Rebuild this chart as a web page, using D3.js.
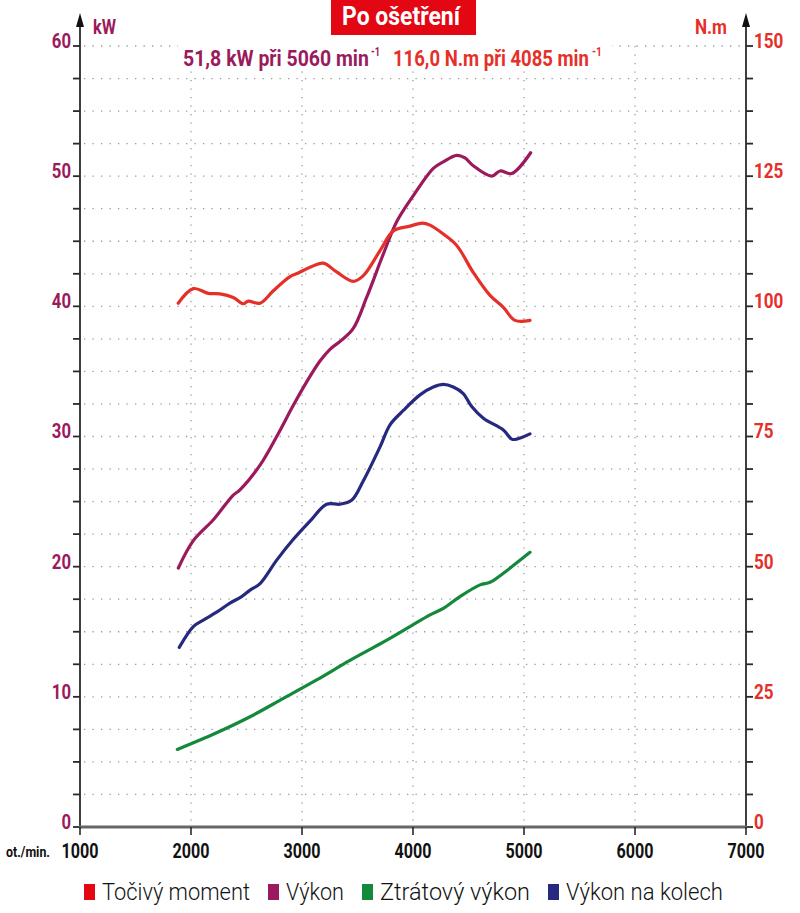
<!DOCTYPE html>
<html><head><meta charset="utf-8">
<script src="https://cdn.jsdelivr.net/npm/d3@7"></script>
<style>
body{margin:0;background:#fff;}
text{font-family:"Roboto","Liberation Sans",sans-serif;}
</style></head>
<body><svg id="c" width="800" height="913"></svg>
<script>
const rpmTorque = [1885,2021,2156,2261,2381,2471,2516,2622,2742,2892,2967,3072,3192,3312,3462,3553,3703,3823,3973,4085,4153,4273,4394,4543,4694,4814,4919,5054];
const torque    = [100.6,103.4,102.5,102.4,101.7,100.5,101.0,100.6,103.0,105.7,106.4,107.5,108.3,106.6,104.8,105.9,110.7,114.5,115.4,116.0,115.6,113.9,111.7,106.5,102.1,99.8,97.3,97.3];
const rpmPower  = [1886,2021,2201,2381,2441,2622,2772,2922,3042,3162,3252,3357,3462,3583,3732,3853,4003,4183,4273,4394,4468,4543,4709,4784,4889,5060];
const power     = [19.9,22.0,23.6,25.5,25.9,27.8,30.0,32.4,34.2,35.8,36.7,37.4,38.3,40.7,44.0,46.5,48.5,50.6,51.1,51.6,51.4,50.8,50.0,50.4,50.2,51.8];
const rpmLoss   = [1877,2231,2532,2832,3132,3432,3732,3973,4153,4273,4423,4604,4694,4814,5054];
const loss      = [5.96,7.24,8.47,9.88,11.3,12.8,14.2,15.4,16.3,16.8,17.7,18.6,18.8,19.5,21.1];
const rpmWheel  = [1894,2021,2111,2231,2351,2456,2532,2622,2772,2922,3072,3222,3342,3447,3553,3703,3793,3913,4063,4183,4273,4363,4453,4529,4634,4814,4889,4934,5054];
const wheel     = [13.8,15.4,15.9,16.5,17.2,17.7,18.2,18.7,20.5,22.1,23.5,24.8,24.8,25.1,26.6,29.2,30.9,32.0,33.2,33.8,34.0,33.8,33.3,32.3,31.4,30.5,29.8,29.8,30.2];
const xTicks = [1000,2000,3000,4000,5000,6000,7000];
const kwTicks = [0,10,20,30,40,50,60];
const nmTicks = [0,25,50,75,100,125,150];
const legendNames = ["Točivý moment","Výkon","Ztrátový výkon","Výkon na kolech"];

const C = {torque:"#e5302a", power:"#9b1a5d", loss:"#14893b", wheel:"#27297f"};
const svg = d3.select("#c");
const x = d3.scaleLinear().domain([1000,7000]).range([80,746]);
const yK = d3.scaleLinear().domain([0,60]).range([827,46]);
const yN = d3.scaleLinear().domain([0,150]).range([827,46]);
// condense a text horizontally to width w, scaling about its anchor x
const fit = (sel, w) => {
  const n = sel.node(), w0 = n.getComputedTextLength(), ax = +sel.attr("x");
  const s = w / w0;
  sel.attr("transform", `translate(${ax},0) scale(${s},1) translate(${-ax},0)`);
  return sel;
};

// grid
const minor = d3.range(2.5,60.01,2.5);
svg.append("g").selectAll("line").data(minor).join("line")
  .attr("x1",84).attr("x2",746).attr("y1",d=>yK(d)).attr("y2",d=>yK(d))
  .attr("stroke","#9a9a9a").attr("stroke-width",1.3).attr("stroke-dasharray","1.3,7.2");
svg.append("g").selectAll("line").data(xTicks.slice(1,6)).join("line")
  .attr("x1",d=>x(d)).attr("x2",d=>x(d)).attr("y1",yK(60)).attr("y2",825)
  .attr("stroke","#9a9a9a").attr("stroke-width",1.3).attr("stroke-dasharray","1.3,7.2");

// subtitle background
svg.append("rect").attr("x",178).attr("y",38).attr("width",434).attr("height",32).attr("fill","#fff");

// axes
const axCol="#2a2a2a";
svg.append("line").attr("x1",80).attr("x2",80).attr("y1",22).attr("y2",829).attr("stroke",axCol).attr("stroke-width",1.8);
svg.append("line").attr("x1",746).attr("x2",746).attr("y1",22).attr("y2",829).attr("stroke",axCol).attr("stroke-width",1.8);
svg.append("path").attr("d","M80,13 L76,27 L84,27 Z").attr("fill","#111");
svg.append("path").attr("d","M746,13 L742,27 L750,27 Z").attr("fill","#111");
svg.append("g").selectAll("line").data(d3.range(0,60.01,2.5)).join("line")
  .attr("x1",73).attr("x2",80).attr("y1",d=>yK(d)).attr("y2",d=>yK(d)).attr("stroke",axCol).attr("stroke-width",1.8);
svg.append("g").selectAll("line").data(d3.range(0,60.01,2.5)).join("line")
  .attr("x1",746).attr("x2",753).attr("y1",d=>yK(d)).attr("y2",d=>yK(d)).attr("stroke",axCol).attr("stroke-width",1.8);
svg.append("line").attr("x1",79).attr("x2",747).attr("y1",827).attr("y2",827).attr("stroke","#666").attr("stroke-width",3);
svg.append("g").selectAll("line").data(xTicks).join("line")
  .attr("x1",d=>x(d)).attr("x2",d=>x(d)).attr("y1",827).attr("y2",835).attr("stroke",axCol).attr("stroke-width",1.6);

// tick labels
svg.append("g").selectAll("text").data(kwTicks).join("text")
  .attr("x",71).attr("y",d=>yK(d)+2).attr("text-anchor","end")
  .attr("fill",C.power).attr("font-size",21).attr("font-weight","bold").text(d=>d)
  .each(function(d){ fit(d3.select(this), String(d).length*9.6); });
svg.append("g").selectAll("text").data(nmTicks).join("text")
  .attr("x",754).attr("y",d=>yN(d)+2).attr("text-anchor","start")
  .attr("fill",C.torque).attr("font-size",21).attr("font-weight","bold").text(d=>d)
  .each(function(d){ fit(d3.select(this), String(d).length*9.8); });
svg.append("g").selectAll("text").data(xTicks).join("text")
  .attr("x",d=>x(d)).attr("y",858).attr("text-anchor","middle")
  .attr("fill","#111").attr("font-size",20).attr("font-weight","bold").text(d=>d)
  .each(function(){ fit(d3.select(this), 37); });
fit(svg.append("text").attr("x",6).attr("y",857).attr("font-size",14).attr("font-weight","bold").attr("fill","#111").text("ot./min."), 44);
fit(svg.append("text").attr("x",93).attr("y",34).attr("font-size",20).attr("font-weight","bold").attr("fill",C.power).text("kW"), 23);
fit(svg.append("text").attr("x",695).attr("y",34).attr("font-size",20).attr("font-weight","bold").attr("fill",C.torque).text("N.m"), 32);

// title
svg.append("rect").attr("x",331).attr("y",0).attr("width",145).attr("height",35).attr("fill","#e30613");
fit(svg.append("text").attr("x",342).attr("y",25).attr("font-size",25).attr("font-weight","bold").attr("fill","#fff").text("Po ošetření"), 118);

// subtitle
fit(svg.append("text").attr("x",183).attr("y",66).attr("font-size",22).attr("font-weight","bold").attr("fill",C.power).text("51,8 kW při 5060 min"), 186);
fit(svg.append("text").attr("x",371).attr("y",56).attr("font-size",12).attr("font-weight","bold").attr("fill",C.power).text("-1"), 9);
fit(svg.append("text").attr("x",393).attr("y",66).attr("font-size",22).attr("font-weight","bold").attr("fill",C.torque).text("116,0 N.m při 4085 min"), 196);
fit(svg.append("text").attr("x",592).attr("y",56).attr("font-size",12).attr("font-weight","bold").attr("fill",C.torque).text("-1"), 10);

// lines
const mk = (xs, ys, sc) => xs.map((r,i)=>[x(r), sc(ys[i])]);
const line = d3.line().curve(d3.curveCatmullRom.alpha(0.5));
const series = [
  [rpmLoss, loss, yK, C.loss],
  [rpmWheel, wheel, yK, C.wheel],
  [rpmPower, power, yK, C.power],
  [rpmTorque, torque, yN, C.torque]
];
series.forEach(([xs,ys,sc,col])=>{
  svg.append("path").attr("d",line(mk(xs,ys,sc))).attr("fill","none")
    .attr("stroke",col).attr("stroke-width",3.2).attr("stroke-linejoin","round").attr("stroke-linecap","round");
});

// legend
const legCols = ["#e30613",C.power,C.loss,C.wheel];
const legW = [148,58,150,157];
const lg = svg.append("g");
let lx = 84;
legendNames.forEach((n,i)=>{
  lg.append("rect").attr("x",lx).attr("y",884).attr("width",11).attr("height",16).attr("fill",legCols[i]);
  fit(lg.append("text").attr("x",lx+18).attr("y",900).attr("font-size",23).attr("font-weight",300).attr("fill","#111").text(n), legW[i]);
  lx += 18 + legW[i] + 18;
});
</script></body></html>
